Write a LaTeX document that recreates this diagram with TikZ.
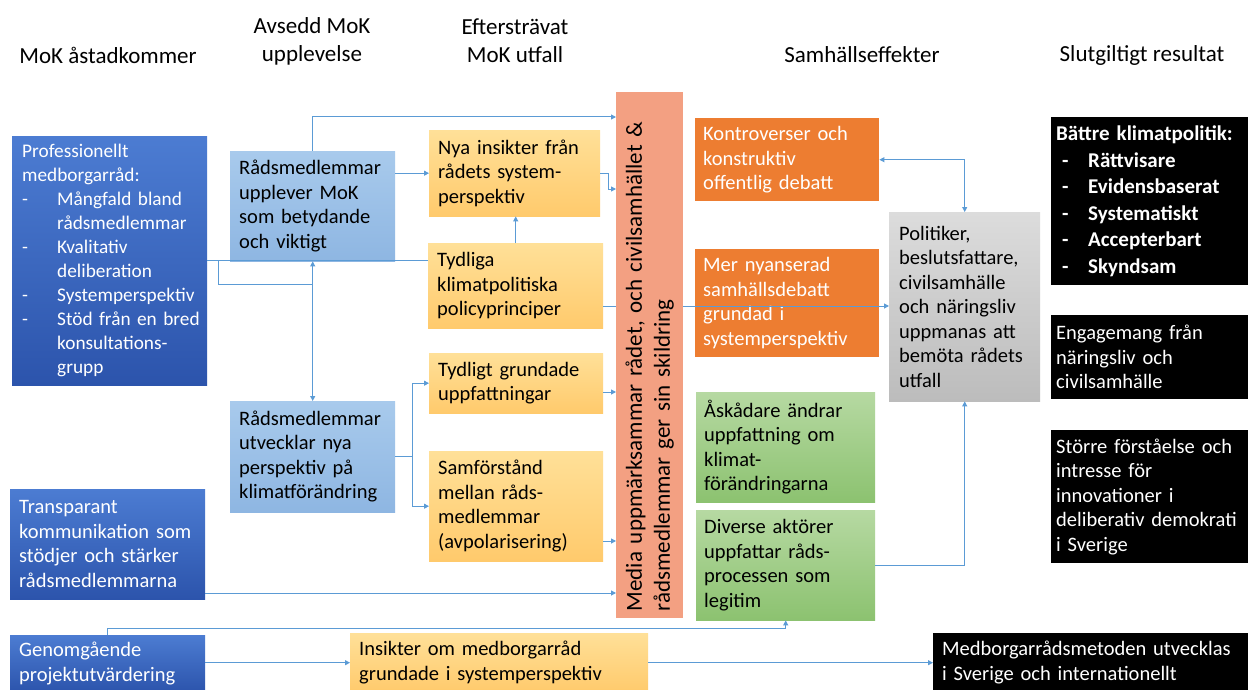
\documentclass[tikz,border=0pt]{standalone}
\usepackage{fontspec}
\setmainfont{Carlito}
\usetikzlibrary{arrows.meta,calc}
\definecolor{conncol}{RGB}{91,155,213}
\definecolor{dbtop}{RGB}{76,124,210}
\definecolor{dbbot}{RGB}{44,84,172}
\definecolor{lbtop}{RGB}{168,202,236}
\definecolor{lbbot}{RGB}{142,182,226}
\definecolor{yltop}{RGB}{255,224,152}
\definecolor{ylbot}{RGB}{255,202,108}
\definecolor{salmon}{RGB}{243,160,130}
\definecolor{orng}{RGB}{237,125,49}
\definecolor{grtop}{RGB}{182,217,162}
\definecolor{grbot}{RGB}{140,194,112}
\definecolor{gytop}{RGB}{220,220,220}
\definecolor{gybot}{RGB}{188,188,188}
\newcommand\bitem[1]{\makebox[35pt][l]{-}\mbox{#1}}
\newcommand\bcont{\hspace*{35pt}}
\newcommand\kitem[1]{\hspace*{6pt}\makebox[26pt][l]{-}\mbox{#1}}
\begin{document}
\begin{tikzpicture}[x=1pt,y=-1pt,
  box/.style={anchor=north west, inner xsep=9pt, inner ysep=0pt, align=left,
    font=\fontsize{20.5}{24.5}\selectfont, draw=none},
  dblue/.style={box, top color=dbtop, bottom color=dbbot, text=white},
  lblue/.style={box, top color=lbtop, bottom color=lbbot, text=black},
  yell/.style={box, top color=yltop, bottom color=ylbot, text=black},
  orbox/.style={box, fill=orng, text=white},
  grbox/.style={box, top color=grtop, bottom color=grbot, text=black},
  gybox/.style={box, top color=gytop, bottom color=gybot, text=black},
  bkbox/.style={box, fill=black, text=white, inner xsep=5pt},
  hdr/.style={align=center, font=\fontsize{23}{28}\selectfont, inner sep=0pt},
  conn/.style={draw=conncol, line width=1pt},
  arr/.style={conn, -{Triangle[length=5pt,width=5pt]}},
  arrb/.style={conn, {Triangle[length=5pt,width=5pt]}-{Triangle[length=5pt,width=5pt]}}
]
\clip (0,0) rectangle (1248,690);
\fill[white] (0,0) rectangle (1248,690);

% headers
\node[hdr] (h1) at (108,55) {MoK åstadkommer};
\node[hdr] (h2) at (312,41) {Avsedd MoK\\upplevelse};
\node[hdr] (h3) at (515,41) {Eftersträvat\\MoK utfall};
\node[hdr] (h4) at (862,55) {Samhällseffekter};
\node[hdr] (h5) at (1142,55) {Slutgiltigt resultat};

% column 1
\node[dblue, inner xsep=10pt, text width=175pt, minimum height=249pt,
  font=\fontsize{19.3}{24}\selectfont] (prof) at (12,136)
 {Professionellt\\medborgarråd:\\\bitem{Mångfald bland}\\\bcont rådsmedlemmar\\\bitem{Kvalitativ}\\\bcont deliberation\\\bitem{Systemperspektiv}\\\bitem{Stöd från en bred}\\\bcont konsultations-\\\bcont grupp};
\node[dblue, text width=177pt, minimum height=110pt] (tra) at (10,489)
 {Transparant\\kommunikation som\\stödjer och stärker\\rådsmedlemmarna};
\node[dblue, text width=177pt, minimum height=57pt] (gen) at (10,635)
 {Genomgående\\projektutvärdering};

% column 2
\node[lblue, text width=147pt, minimum height=110pt] (upp) at (230,151)
 {Rådsmedlemmar\\upplever MoK\\som betydande\\och viktigt};
\node[lblue, text width=147pt, minimum height=111pt] (utv) at (230,401)
 {Rådsmedlemmar\\utvecklar nya\\perspektiv på\\klimatförändring};

% column 3
\node[yell, text width=153pt, minimum height=86pt] (nya) at (429,130)
 {Nya insikter från\\rådets system-\\perspektiv};
\node[yell, text width=157pt, minimum height=85pt] (tyd) at (428,243)
 {Tydliga\\klimatpolitiska\\policyprinciper};
\node[yell, text width=156pt, minimum height=60pt] (tgr) at (429,353)
 {Tydligt grundade\\uppfattningar};
\node[yell, text width=156pt, minimum height=110pt] (sam) at (429,451)
 {Samförstånd\\mellan råds-\\medlemmar\\(avpolarisering)};
\node[yell, text width=280pt, minimum height=59pt] (ins) at (350,633)
 {Insikter om medborgarråd\\grundade i systemperspektiv};

% column 4
\node[orbox, inner xsep=8pt, text width=168pt, minimum height=83pt] (kon) at (695,118)
 {Kontroverser och\\konstruktiv\\offentlig debatt};
\node[orbox, inner xsep=8pt, text width=168pt, minimum height=108pt] (mer) at (695,249)
 {Mer nyanserad\\samhällsdebatt\\grundad i\\systemperspektiv};
\node[grbox, inner xsep=8pt, text width=163pt, minimum height=110pt] (ask) at (696,392)
 {Åskådare ändrar\\uppfattning om\\klimat-\\förändringarna};
\node[grbox, inner xsep=8pt, text width=163pt, minimum height=110pt] (div) at (696,510)
 {Diverse aktörer\\uppfattar råds-\\processen som\\legitim};
\node[gybox, inner xsep=10pt, text width=131pt, minimum height=189pt] (pol) at (889,212)
 {Politiker,\\beslutsfattare,\\civilsamhälle\\och näringsliv\\uppmanas att\\bemöta rådets\\utfall};

% column 5
\node[bkbox, text width=187pt, minimum height=168pt, font=\bfseries\fontsize{21}{26.5}\selectfont] (bat) at (1051,117)
 {Bättre klimatpolitik:\\\kitem{Rättvisare}\\\kitem{Evidensbaserat}\\\kitem{Systematiskt}\\\kitem{Accepterbart}\\\kitem{Skyndsam}};
\node[bkbox, text width=187pt, minimum height=84pt] (eng) at (1051,315)
 {Engagemang från\\näringsliv och\\civilsamhälle};
\node[bkbox, text width=187pt, minimum height=133pt] (sto) at (1051,430)
 {Större förståelse och\\intresse för\\innovationer i\\deliberativ demokrati\\i Sverige};
\node[bkbox, inner xsep=9pt, text width=297pt, minimum height=59pt] (res) at (933,633)
 {Medborgarrådsmetoden utvecklas\\i Sverige och internationellt};

% line passing under the media box
\draw[arr] (tyd.east |- 0,306) -- (pol.west |- 0,306);

% media box
\node[box, fill=salmon, minimum width=67pt, minimum height=526pt, inner sep=0pt] (media) at (616,92) {};
\node[rotate=90, text width=512pt, align=left, inner sep=0pt,
  font=\fontsize{23}{28}\selectfont] (mediatxt) at (media.center)
 {Media uppmärksammar rådet, och civilsamhället \&\\rådsmedlemmar ger sin skildring};

% connectors
\coordinate (j1) at ($(prof.east)+(11,0)$);
\coordinate (j2) at (upp.south |- 0,284);
\draw[conn] (prof.east) -- (prof.east -| tyd.west);
\draw[conn] (j1) |- (j2);
\draw[arr] (j2) -- (upp.south);
\draw[arr] (j2) -- (utv.north);
\draw[arr] (upp.north) |- (media.west |- 0,117);
\draw[arr] (upp.east |- nya.west) -- (nya.west);
\draw[arr] (tyd.north) -- (tyd.north |- nya.south);
\draw[arr] (nya.east) -- ++(8,0) |- (media.west |- 0,189);
\draw[arr] (tgr.east |- 0,392) -- (media.west |- 0,392);
\draw[arr] (sam.east |- 0,541) -- (media.west |- 0,541);
\draw[arr] (tra.east |- 0,593) -- (media.west |- 0,593);
\draw[conn] (utv.east) -- ++(17,0) coordinate (u1);
\draw[arr] (u1) |- (tgr.west);
\draw[arr] (u1) |- (sam.west);
\draw[arrb] (kon.east) -| (pol.north);
\draw[arr] (div.east) -| (pol.south);
\draw[arr] (gen.north) -- ++(0,-7) -| (div.south);
\draw[arr] (gen.east |- ins.west) -- (ins.west);
\draw[arr] (ins.east) -- (res.west);
\end{tikzpicture}
\end{document}
